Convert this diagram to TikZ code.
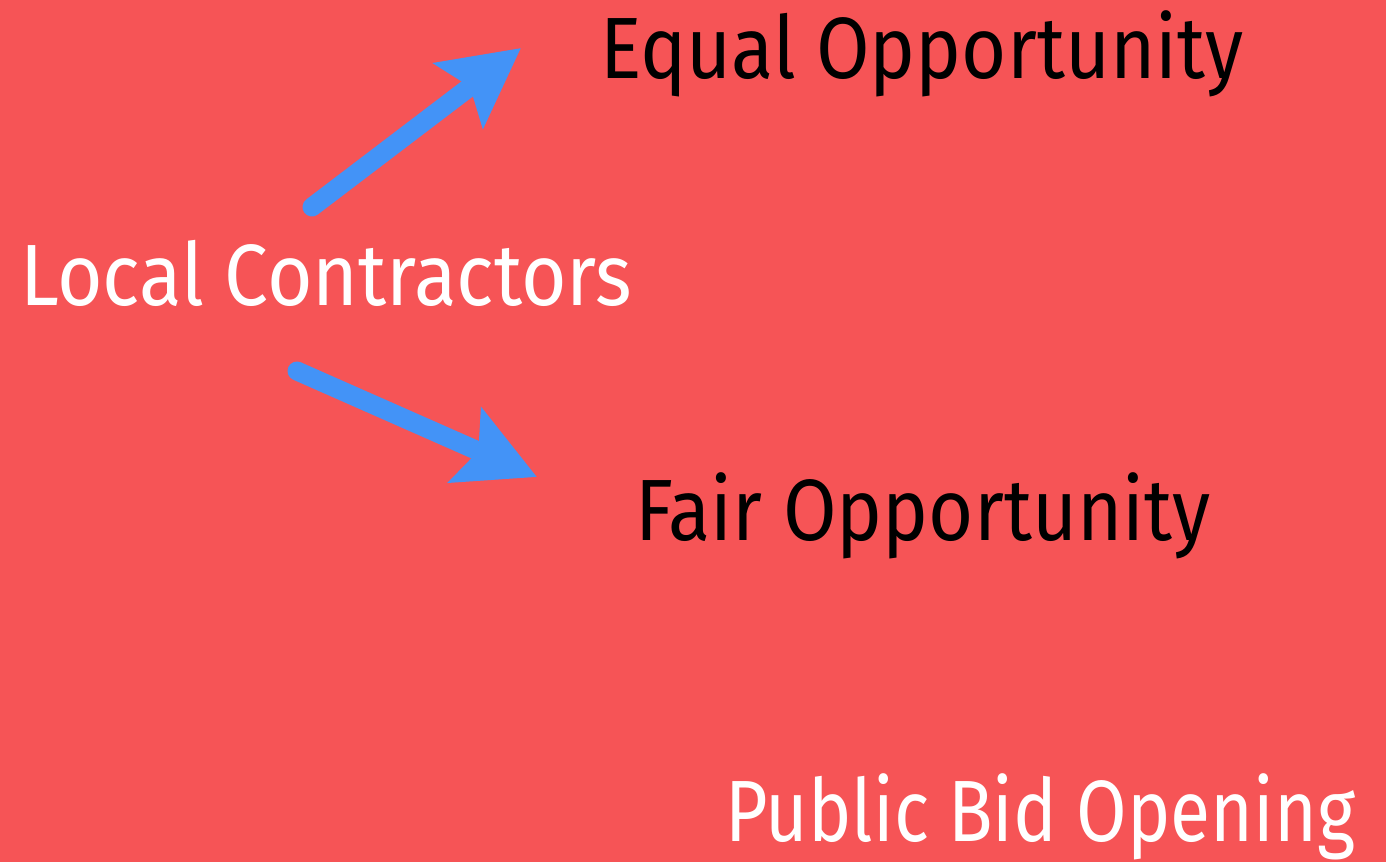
\documentclass[tikz,border=0pt]{standalone}
\usepackage{fontspec}
\usepackage{graphicx}
\setmainfont{Fira Sans}
\usetikzlibrary{arrows.meta}
\definecolor{bg}{HTML}{F65456}
\definecolor{arrowblue}{HTML}{4393F7}
\tikzset{
  label/.style={anchor=base west, inner sep=0pt, font=\fontsize{87}{90}\selectfont},
  bigarrow/.style={draw=arrowblue, line width=19pt, line cap=round,
    -{Stealth[length=78pt, width=80pt, inset=14pt]}},
}
\begin{document}
\begin{tikzpicture}[x=1pt,y=-1pt]
  \fill[bg] (0,0) rectangle (1386,862);
  \useasboundingbox (0,0) rectangle (1386,862);
  \node[label, text=black] (equal) at (600,78) {\resizebox{643pt}{\height}{Equal Opportunity}};
  \node[label, text=white] (local) at (20,305) {\resizebox{612pt}{\height}{Local Contractors}};
  \node[label, text=black] (fair) at (635,540) {\resizebox{575pt}{\height}{Fair Opportunity}};
  \node[label, text=white] (public) at (725,841) {\resizebox{630pt}{\height}{Public Bid Opening}};
  \coordinate (t1) at (312,207);
  \coordinate (h1) at (521,48);
  \coordinate (t2) at (297,371);
  \coordinate (h2) at (537,477);
  \draw[bigarrow] (t1) -- (h1);
  \draw[bigarrow] (t2) -- (h2);
\end{tikzpicture}
\end{document}
